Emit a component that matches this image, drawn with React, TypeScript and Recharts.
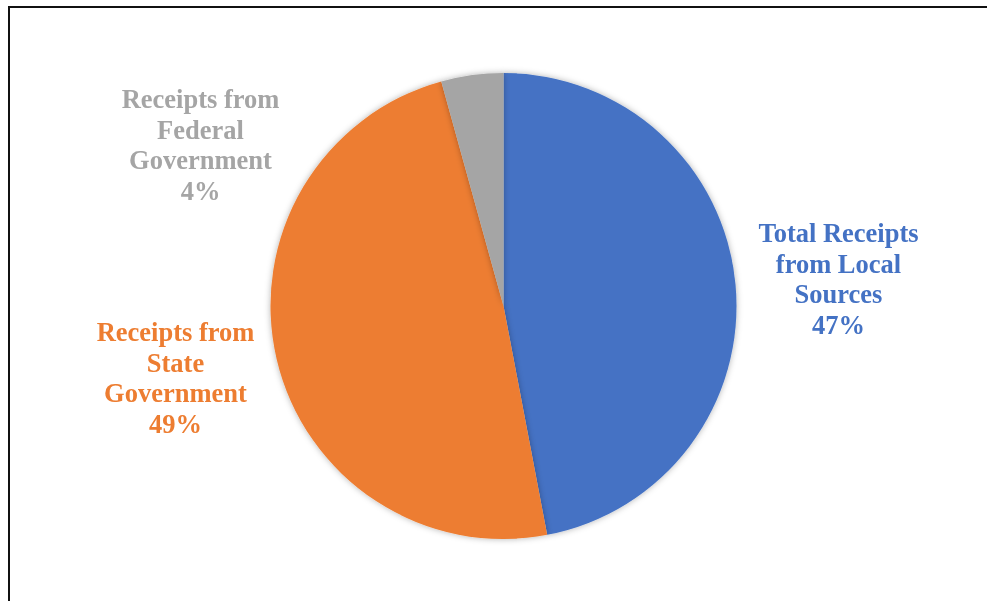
import { PieChart, Pie, Cell } from 'recharts';

const CATEGORIES = ['Total Receipts from Local Sources', 'Receipts from State Government', 'Receipts from Federal Government'];
const VALUES = [47.0, 48.7, 4.3];
const LABEL_LINES = [
  ['Total Receipts', 'from Local', 'Sources', '47%'],
  ['Receipts from', 'State', 'Government', '49%'],
  ['Receipts from', 'Federal', 'Government', '4%'],
];

const COLORS = ['#4472C4', '#ED7D31', '#A5A5A5'];
// label block centre, relative to pie centre
const LABEL_OFFSETS = [
  { dx: 335, dy: -27 },
  { dx: -328, dy: 72 },
  { dx: -303, dy: -161 },
];

const data = CATEGORIES.map((name, i) => ({ name, value: VALUES[i] }));

const LINE_H = 30.6;

function renderLabel(props: any) {
  const { cx, cy, index } = props;
  const off = LABEL_OFFSETS[index];
  const lines = LABEL_LINES[index];
  const top = cy + off.dy - ((lines.length - 1) * LINE_H) / 2;
  return (
    <text
      x={cx + off.dx}
      y={top}
      textAnchor="middle"
      dominantBaseline="central"
      fill={COLORS[index]}
      style={{ fontFamily: '"Liberation Serif", "Times New Roman", serif', fontWeight: 700, fontSize: 26.5 }}
    >
      {lines.map((l, j) => (
        <tspan key={j} x={cx + off.dx} y={top + j * LINE_H}>
          {l}
        </tspan>
      ))}
    </text>
  );
}

export default function App() {
  return (
    <div style={{ position: 'fixed', left: 8, top: 6, width: 979, height: 595, borderTop: '2px solid #111', borderLeft: '2px solid #111' }}>
      <svg width={0} height={0} style={{ position: 'absolute' }}>
        <defs>
          <filter id="pieShadow" x="-10%" y="-10%" width="120%" height="120%">
            <feDropShadow dx={0} dy={0} stdDeviation={3} floodColor="#000" floodOpacity={0.3} />
          </filter>
        </defs>
      </svg>
      <PieChart width={977} height={593}>
        <Pie
          data={data}
          dataKey="value"
          cx={488.5}
          cy={293}
          outerRadius={233}
          startAngle={90}
          endAngle={-270}
          stroke="none"
          label={renderLabel}
          labelLine={false}
          isAnimationActive={false}
          style={{ filter: 'url(#pieShadow)' }}
        >
          {data.map((_, index) => (
            <Cell key={index} fill={COLORS[index]} />
          ))}
        </Pie>
      </PieChart>
    </div>
  );
}
